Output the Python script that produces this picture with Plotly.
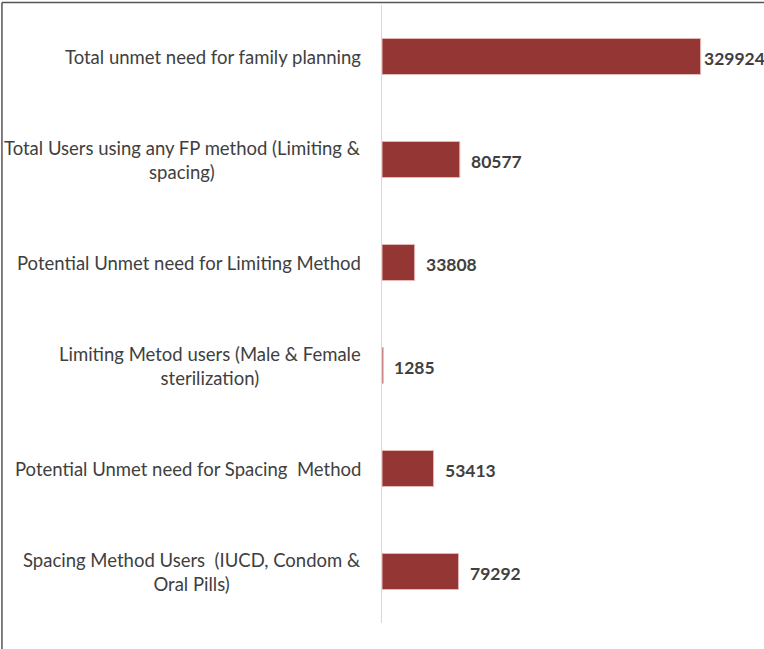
import plotly.graph_objects as go

categories = [
    "Total unmet need for family planning",
    "Total Users using any FP method (Limiting &<br>spacing)",
    "Potential Unmet need for Limiting Method",
    "Limiting Metod users (Male & Female<br>sterilization)",
    "Potential Unmet need for Spacing  Method",
    "Spacing Method Users  (IUCD, Condom &<br>Oral Pills)",
]
values = [329924, 80577, 33808, 1285, 53413, 79292]
ids = list(range(len(categories)))

W, H = 764, 649
L, R, T, B = 382, 764 - 720.4, 5, 26
pw = W - L - R
ph = H - T - B

fig = go.Figure(go.Bar(
    x=values, y=ids, orientation="h",
    marker=dict(color="#943634", line=dict(color="#e6b9b8", width=1)),
    width=0.35, hoverinfo="x+y",
))

annotations = []
for i, c in enumerate(categories):
    annotations.append(dict(
        x=0, xref="paper", y=i, yref="y", text=c, showarrow=False,
        xanchor="right", yanchor="middle", align="center", xshift=-19,
        font=dict(family="Lato", size=18.5, color="#404040"),
    ))
label_shift = [1, 9, 9, 9, 9, 9]
for i, v in enumerate(values):
    annotations.append(dict(
        x=v, xref="x", y=i, yref="y", text="<b>%d</b>" % v, showarrow=False,
        xanchor="left", yanchor="middle", xshift=label_shift[i], yshift=-2,
        font=dict(family="Lato", size=17.5, color="#404040"),
    ))

bx0 = (1.5 - L) / pw
by1 = (ph + T - 2.5) / ph
by0 = -(B + 5) / ph
shapes = [
    dict(type="line", xref="paper", yref="paper", x0=bx0, x1=(W + 5 - L) / pw,
         y0=by1, y1=by1, line=dict(color="#555555", width=1.5)),
    dict(type="line", xref="paper", yref="paper", x0=bx0, x1=bx0,
         y0=by0, y1=by1, line=dict(color="#555555", width=1.5)),
]

fig.update_layout(
    width=W, height=H,
    margin=dict(l=L, r=R, t=T, b=B),
    paper_bgcolor="white", plot_bgcolor="white",
    showlegend=False,
    xaxis=dict(range=[0, 350000], visible=False, showgrid=False, zeroline=False),
    yaxis=dict(range=[5.5, -0.5], showticklabels=False, showgrid=False,
               zeroline=False, showline=True, linecolor="#d9d9d9", linewidth=1,
               ticks=""),
    annotations=annotations, shapes=shapes,
)

fig.write_html("out.html", config={"displayModeBar": False},
               post_script="document.body.style.margin='0';")
